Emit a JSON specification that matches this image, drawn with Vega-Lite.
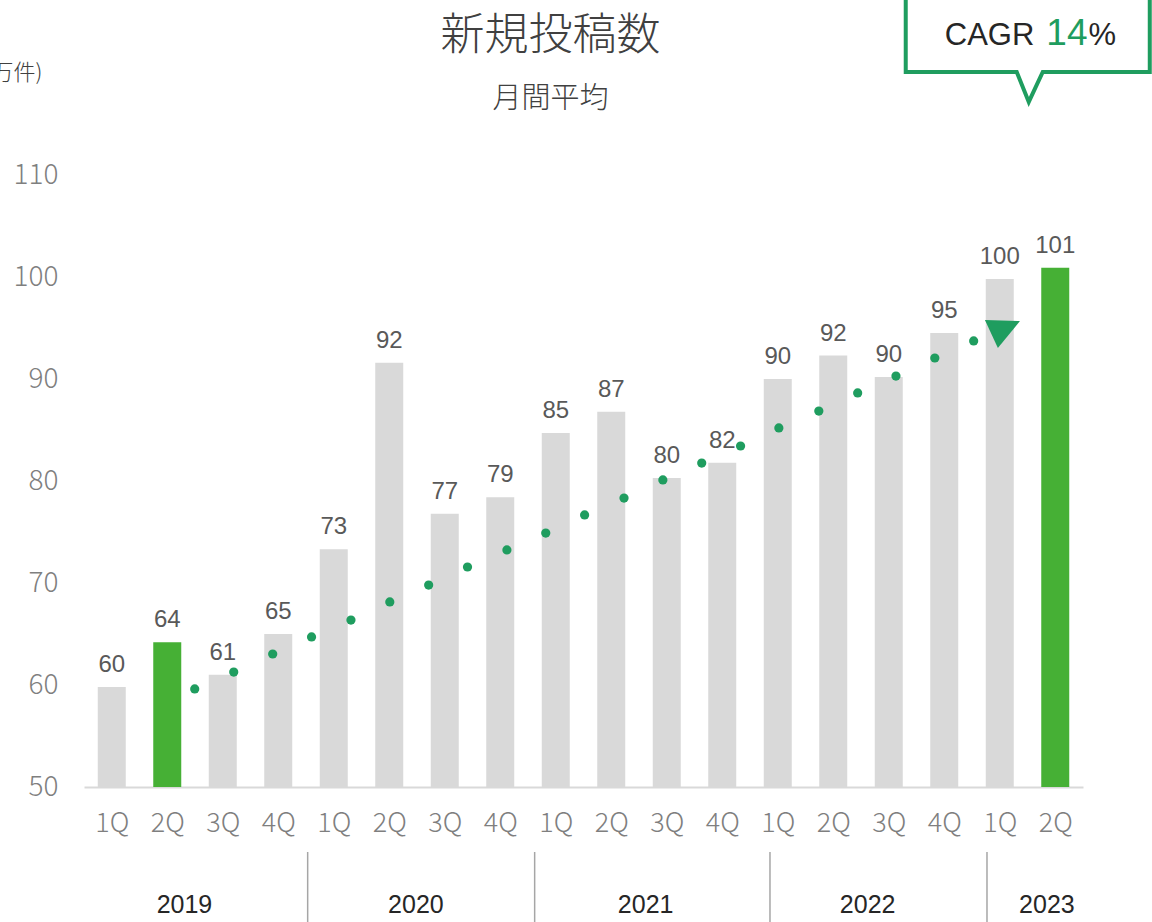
{
  "$schema": "https://vega.github.io/schema/vega-lite/v6.json",
  "width": 999,
  "height": 612,
  "autosize": {"type": "none"},
  "padding": {"left": 84, "top": 175, "right": 69, "bottom": 135},
  "background": "white",
  "config": {"view": {"stroke": null}},
  "title": {
    "text": "新規投稿数",
    "subtitle": "月間平均",
    "anchor": "middle",
    "dx": -33,
    "offset": -127,
    "font": "Noto Sans CJK JP",
    "fontSize": 44,
    "fontWeight": 300,
    "color": "#404040",
    "subtitleFont": "Noto Sans CJK JP",
    "subtitleFontSize": 29,
    "subtitleFontWeight": 300,
    "subtitleColor": "#404040",
    "subtitlePadding": 26
  },
  "datasets": {
    "bars": [
      {"x": 0, "q": "1Q", "y": 59.8, "label": "60", "type": "normal"},
      {"x": 1, "q": "2Q", "y": 64.2, "label": "64", "type": "highlight"},
      {"x": 2, "q": "3Q", "y": 61.0, "label": "61", "type": "normal"},
      {"x": 3, "q": "4Q", "y": 65.0, "label": "65", "type": "normal"},
      {"x": 4, "q": "1Q", "y": 73.3, "label": "73", "type": "normal"},
      {"x": 5, "q": "2Q", "y": 91.6, "label": "92", "type": "normal"},
      {"x": 6, "q": "3Q", "y": 76.8, "label": "77", "type": "normal"},
      {"x": 7, "q": "4Q", "y": 78.4, "label": "79", "type": "normal"},
      {"x": 8, "q": "1Q", "y": 84.7, "label": "85", "type": "normal"},
      {"x": 9, "q": "2Q", "y": 86.8, "label": "87", "type": "normal"},
      {"x": 10, "q": "3Q", "y": 80.3, "label": "80", "type": "normal"},
      {"x": 11, "q": "4Q", "y": 81.8, "label": "82", "type": "normal"},
      {"x": 12, "q": "1Q", "y": 90.0, "label": "90", "type": "normal"},
      {"x": 13, "q": "2Q", "y": 92.3, "label": "92", "type": "normal"},
      {"x": 14, "q": "3Q", "y": 90.2, "label": "90", "type": "normal"},
      {"x": 15, "q": "4Q", "y": 94.5, "label": "95", "type": "normal"},
      {"x": 16, "q": "1Q", "y": 99.8, "label": "100", "type": "normal"},
      {"x": 17, "q": "2Q", "y": 100.9, "label": "101", "type": "highlight"}
    ],
    "trend": [
      {"x": 1.495, "y": 59.61}, {"x": 2.198, "y": 61.27}, {"x": 2.90, "y": 63.04},
      {"x": 3.60, "y": 64.71}, {"x": 4.31, "y": 66.37}, {"x": 5.01, "y": 68.14},
      {"x": 5.71, "y": 69.80}, {"x": 6.41, "y": 71.57}, {"x": 7.12, "y": 73.24},
      {"x": 7.82, "y": 74.90}, {"x": 8.52, "y": 76.67}, {"x": 9.23, "y": 78.33},
      {"x": 9.93, "y": 80.10}, {"x": 10.63, "y": 81.76}, {"x": 11.33, "y": 83.43},
      {"x": 12.02, "y": 85.20}, {"x": 12.74, "y": 86.86}, {"x": 13.44, "y": 88.63},
      {"x": 14.13, "y": 90.29}, {"x": 14.83, "y": 92.06}, {"x": 15.53, "y": 93.73}
    ],
    "years": [
      {"x": 1.31, "year": "2019"},
      {"x": 5.48, "year": "2020"},
      {"x": 9.62, "year": "2021"},
      {"x": 13.62, "year": "2022"},
      {"x": 16.85, "year": "2023"}
    ],
    "seps": [
      {"x": 3.53}, {"x": 7.62}, {"x": 11.86}, {"x": 15.77}
    ],
    "callout": [
      {"o": 0, "x": 14.306, "y": 127.65},
      {"o": 1, "x": 14.306, "y": 120.10},
      {"o": 2, "x": 16.306, "y": 120.10},
      {"o": 3, "x": 16.523, "y": 117.16},
      {"o": 4, "x": 16.775, "y": 120.10},
      {"o": 5, "x": 18.703, "y": 120.10},
      {"o": 6, "x": 18.703, "y": 127.65}
    ]
  },
  "layer": [
    {
      "data": {"name": "bars"},
      "mark": {"type": "bar", "size": 28},
      "encoding": {
        "x": {
          "field": "x", "type": "quantitative",
          "scale": {"domain": [-0.5, 17.5], "nice": false, "zero": false, "padding": 0},
          "axis": {
            "title": null,
            "values": [0,1,2,3,4,5,6,7,8,9,10,11,12,13,14,15,16,17],
            "labelExpr": "['1Q','2Q','3Q','4Q'][datum.value % 4]",
            "grid": false, "ticks": false, "tickSize": 0,
            "domainColor": "#d9d9d9", "domainWidth": 2,
            "labelFont": "Noto Sans CJK JP", "labelFontWeight": 300,
            "labelFontSize": 27, "labelColor": "#7f7f7f",
            "labelBaseline": "middle", "labelPadding": 36,
            "labelOverlap": false, "labelFlush": false
          }
        },
        "y": {
          "field": "y", "type": "quantitative",
          "scale": {"domain": [50, 110], "nice": false, "zero": false, "padding": 0},
          "axis": {
            "title": "(万件)",
            "titleAngle": 0, "titleAlign": "right", "titleBaseline": "middle",
            "titleX": -42, "titleY": -103,
            "titleFont": "Noto Sans CJK JP", "titleFontWeight": 300,
            "titleFontSize": 22, "titleColor": "#404040",
            "values": [50, 60, 70, 80, 90, 100, 110],
            "grid": false, "ticks": false, "tickSize": 0, "domain": false,
            "labelFont": "Noto Sans CJK JP", "labelFontWeight": 300,
            "labelFontSize": 28, "labelColor": "#7f7f7f",
            "labelPadding": 26
          }
        },
        "y2": {"datum": 50},
        "color": {
          "field": "type", "type": "nominal",
          "scale": {"domain": ["normal", "highlight"], "range": ["#d9d9d9", "#46b035"]},
          "legend": null
        }
      }
    },
    {
      "data": {"name": "bars"},
      "mark": {"type": "text", "baseline": "alphabetic", "dy": -15, "font": "Liberation Sans", "fontSize": 24, "color": "#595959"},
      "encoding": {
        "x": {"field": "x", "type": "quantitative"},
        "y": {"field": "y", "type": "quantitative"},
        "text": {"field": "label"}
      }
    },
    {
      "data": {"name": "trend"},
      "mark": {"type": "point", "filled": true, "size": 85, "color": "#1f9d5f", "opacity": 1},
      "encoding": {
        "x": {"field": "x", "type": "quantitative"},
        "y": {"field": "y", "type": "quantitative"}
      }
    },
    {
      "data": {"values": [{}]},
      "mark": {"type": "point", "filled": true, "opacity": 1, "color": "#1f9d5f", "size": 1225,
               "shape": "M -0.91 -0.57 L 1.09 -0.51 L -0.17 1.03 Z"},
      "encoding": {
        "x": {"datum": 16.02},
        "y": {"datum": 94.8}
      }
    },
    {
      "data": {"name": "seps"},
      "mark": {"type": "rule", "color": "#a6a6a6", "strokeWidth": 1.5},
      "encoding": {
        "x": {"field": "x", "type": "quantitative"},
        "y": {"datum": 43.63},
        "y2": {"datum": 36.0}
      }
    },
    {
      "data": {"name": "years"},
      "mark": {"type": "text", "baseline": "middle", "font": "Liberation Sans", "fontSize": 25, "color": "#262626"},
      "encoding": {
        "x": {"field": "x", "type": "quantitative"},
        "y": {"datum": 38.43},
        "text": {"field": "year"}
      }
    },
    {
      "data": {"name": "callout"},
      "mark": {"type": "line", "color": "#1f9d5f", "strokeWidth": 4, "strokeJoin": "miter", "clip": false},
      "encoding": {
        "x": {"field": "x", "type": "quantitative"},
        "y": {"field": "y", "type": "quantitative"},
        "order": {"field": "o", "type": "quantitative"}
      }
    },
    {
      "data": {"values": [{}]},
      "mark": {"type": "text", "text": "CAGR", "align": "left", "baseline": "alphabetic", "font": "Liberation Sans", "fontSize": 31, "color": "#262626"},
      "encoding": {"x": {"datum": 15.01}, "y": {"datum": 122.75}}
    },
    {
      "data": {"values": [{}]},
      "mark": {"type": "text", "text": "14", "align": "left", "baseline": "alphabetic", "font": "Liberation Sans", "fontSize": 37, "color": "#1f9d5f"},
      "encoding": {"x": {"datum": 16.84}, "y": {"datum": 122.75}}
    },
    {
      "data": {"values": [{}]},
      "mark": {"type": "text", "text": "%", "align": "left", "baseline": "alphabetic", "font": "Liberation Sans", "fontSize": 31, "color": "#262626"},
      "encoding": {"x": {"datum": 17.60}, "y": {"datum": 122.75}}
    }
  ]
}
